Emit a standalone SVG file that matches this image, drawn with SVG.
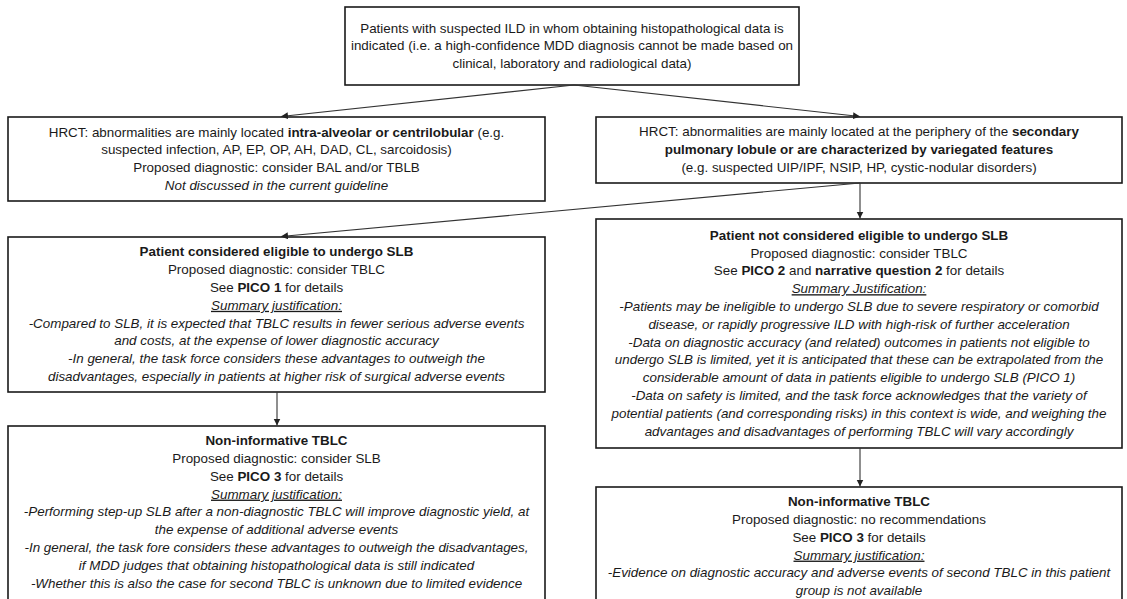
<svg xmlns="http://www.w3.org/2000/svg" width="1127" height="599" viewBox="0 0 1127 599">
<style>
.box{fill:#fff;stroke:#1a1a1a;stroke-width:1.6}
text{font-family:"Liberation Sans",Arial,sans-serif;font-size:13.4px;fill:#1a1a1a;text-anchor:middle}
.b{font-weight:bold}
.i{font-style:italic}
.u{font-style:italic;text-decoration:underline}
.con{stroke:#333;stroke-width:1.1;fill:none;marker-end:url(#ah)}
</style>
<defs>
<marker id="ah" markerUnits="userSpaceOnUse" markerWidth="8" markerHeight="8" refX="7" refY="3.5" orient="auto">
<path d="M0,0 L7,3.5 L0,7 z" fill="#222"/>
</marker>
</defs>
<rect width="1127" height="599" fill="#fff"/>
<g id="top">
<rect class="box" x="345" y="7" width="454" height="78"/>
<text x="572" y="32.5">Patients with suspected ILD in whom obtaining histopathological data is</text>
<text x="572" y="50.3">indicated (i.e. a high-confidence MDD diagnosis cannot be made based on</text>
<text x="572" y="68.1">clinical, laboratory and radiological data)</text>
</g>
<g id="hrct-left">
<rect class="box" x="8" y="117" width="537" height="84"/>
<text x="276.5" y="136.5">HRCT: abnormalities are mainly located <tspan class="b">intra-alveolar or centrilobular</tspan> (e.g.</text>
<text x="276.5" y="154.3">suspected infection, AP, EP, OP, AH, DAD, CL, sarcoidosis)</text>
<text x="276.5" y="172.1">Proposed diagnostic: consider BAL and/or TBLB</text>
<text x="276.5" y="189.9" class="i">Not discussed in the current guideline</text>
</g>
<g id="hrct-right">
<rect class="box" x="596" y="117" width="526" height="66"/>
<text x="859" y="136.4">HRCT: abnormalities are mainly located at the periphery of the <tspan class="b">secondary</tspan></text>
<text x="859" y="154.2" class="b">pulmonary lobule or are characterized by variegated features</text>
<text x="859" y="172">(e.g. suspected UIP/IPF, NSIP, HP, cystic-nodular disorders)</text>
</g>
<g id="eligible">
<rect class="box" x="8" y="237" width="537" height="155"/>
<text x="276.5" y="256.4" class="b">Patient considered eligible to undergo SLB</text>
<text x="276.5" y="274.2">Proposed diagnostic: consider TBLC</text>
<text x="276.5" y="292">See <tspan class="b">PICO 1</tspan> for details</text>
<text x="276.5" y="309.8" class="u">Summary justification:</text>
<text x="276.5" y="327.6" class="i">-Compared to SLB, it is expected that TBLC results in fewer serious adverse events</text>
<text x="276.5" y="345.4" class="i">and costs, at the expense of lower diagnostic accuracy</text>
<text x="276.5" y="363.2" class="i">-In general, the task force considers these advantages to outweigh the</text>
<text x="276.5" y="381" class="i">disadvantages, especially in patients at higher risk of surgical adverse events</text>
</g>
<g id="noninf-left">
<rect class="box" x="8" y="426" width="537" height="190"/>
<text x="276.5" y="445.2" class="b">Non-informative TBLC</text>
<text x="276.5" y="463">Proposed diagnostic: consider SLB</text>
<text x="276.5" y="480.8">See <tspan class="b">PICO 3</tspan> for details</text>
<text x="276.5" y="498.6" class="u">Summary justification:</text>
<text x="276.5" y="516.4" class="i">-Performing step-up SLB after a non-diagnostic TBLC will improve diagnostic yield, at</text>
<text x="276.5" y="534.2" class="i">the expense of additional adverse events</text>
<text x="276.5" y="552" class="i">-In general, the task fore considers these advantages to outweigh the disadvantages,</text>
<text x="276.5" y="569.8" class="i">if MDD judges that obtaining histopathological data is still indicated</text>
<text x="276.5" y="587.6" class="i">-Whether this is also the case for second TBLC is unknown due to limited evidence</text>
</g>
<g id="not-eligible">
<rect class="box" x="596" y="219" width="526" height="229"/>
<text x="859" y="239.8" class="b">Patient not considered eligible to undergo SLB</text>
<text x="859" y="257.6">Proposed diagnostic: consider TBLC</text>
<text x="859" y="275.4">See <tspan class="b">PICO 2</tspan> and <tspan class="b">narrative question 2</tspan> for details</text>
<text x="859" y="293.2" class="u">Summary Justification:</text>
<text x="859" y="311" class="i">-Patients may be ineligible to undergo SLB due to severe respiratory or comorbid</text>
<text x="859" y="328.8" class="i">disease, or rapidly progressive ILD with high-risk of further acceleration</text>
<text x="859" y="346.6" class="i">-Data on diagnostic accuracy (and related) outcomes in patients not eligible to</text>
<text x="859" y="364.4" class="i">undergo SLB is limited, yet it is anticipated that these can be extrapolated from the</text>
<text x="859" y="382.2" class="i">considerable amount of data in patients eligible to undergo SLB (PICO 1)</text>
<text x="859" y="400" class="i">-Data on safety is limited, and the task force acknowledges that the variety of</text>
<text x="859" y="417.8" class="i">potential patients (and corresponding risks) in this context is wide, and weighing the</text>
<text x="859" y="435.6" class="i">advantages and disadvantages of performing TBLC will vary accordingly</text>
</g>
<g id="noninf-right">
<rect class="box" x="596" y="487" width="526" height="130"/>
<text x="859" y="506.2" class="b">Non-informative TBLC</text>
<text x="859" y="524">Proposed diagnostic: no recommendations</text>
<text x="859" y="541.8">See <tspan class="b">PICO 3</tspan> for details</text>
<text x="859" y="559.6" class="u">Summary justification:</text>
<text x="859" y="577.4" class="i">-Evidence on diagnostic accuracy and adverse events of second TBLC in this patient</text>
<text x="859" y="595.2" class="i">group is not available</text>
</g>
<g id="connectors">
<line class="con" x1="574" y1="85" x2="281" y2="116.5"/>
<line class="con" x1="574" y1="85" x2="860" y2="116.5"/>
<line class="con" x1="860" y1="183" x2="281" y2="236.5"/>
<line class="con" x1="860" y1="183" x2="860" y2="218.5"/>
<line class="con" x1="277" y1="392" x2="277" y2="425.5"/>
<line class="con" x1="860" y1="448" x2="860" y2="486.5"/>
</g>
</svg>
